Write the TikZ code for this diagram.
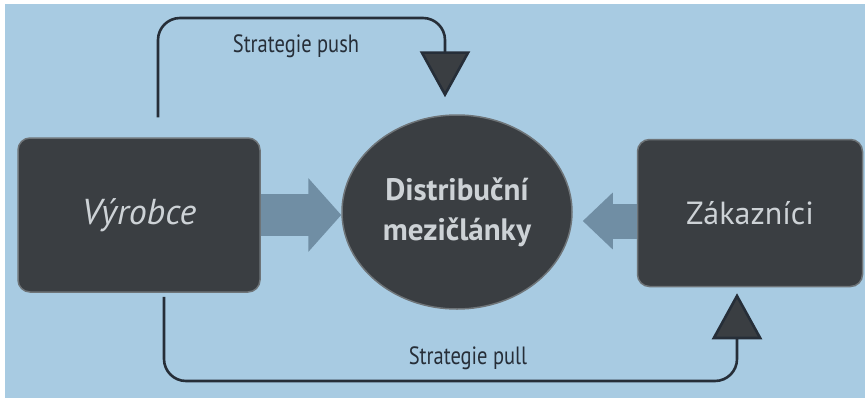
\documentclass[tikz,border=0pt]{standalone}
\usepackage{fontspec}
\setmainfont{PT Sans}
\newfontfamily\narrowfont[FakeStretch=0.82]{PT Sans}
\usetikzlibrary{arrows.meta,shapes.geometric}
\definecolor{pagebg}{RGB}{168,203,226}
\definecolor{boxgrey}{RGB}{58,62,66}
\definecolor{boxrim}{RGB}{110,116,120}
\definecolor{boxtext}{RGB}{205,210,214}
\definecolor{flowline}{RGB}{38,46,56}
\definecolor{arrowblue}{RGB}{112,142,164}

\tikzset{
  actor/.style={draw=boxrim, line width=1.5pt, fill=boxgrey, rounded corners=12pt,
    minimum width=242pt, minimum height=154pt, text=boxtext,
    font=\fontsize{32}{36}\selectfont},
  hub/.style={ellipse, draw=boxrim, line width=1.5pt, fill=boxgrey,
    minimum width=230pt, minimum height=194pt, text=boxtext, align=center,
    font=\bfseries\fontsize{31}{40}\selectfont},
  strategy/.style={line width=2.6pt, draw=flowline, rounded corners=22pt,
    -{Triangle[width=50pt,length=46pt,fill=boxgrey]}},
  blockarrow/.style={draw=arrowblue, line cap=butt},
  stratlabel/.style={text=flowline, font=\narrowfont\fontsize{25}{28}\selectfont}
}

\begin{document}
\begin{tikzpicture}[x=1pt,y=-1pt]

% Page
\fill[white] (0,0) rectangle (865,410);
\fill[pagebg] (5,4) rectangle (865,398);
\useasboundingbox (0,0) rectangle (865,410);

% Boxes
\node[actor] (vyrobce) at (139,215) {\itshape\fontsize{36}{40}\selectfont Výrobce};
\node[hub] (distrib) at (457,212) {Distribuční\\mezičlánky};
\node[actor, minimum width=225pt, minimum height=147pt] (zakaznici) at (750,213) {Zákazníci};

% Block arrows
\draw[blockarrow, line width=42pt, -{Triangle[width=72pt,length=33pt]}]
  (vyrobce.east) -- (vyrobce.east -| distrib.west);
\draw[blockarrow, line width=35pt, shorten >=10pt, -{Triangle[width=55pt,length=30pt]}]
  ([yshift=-8pt]zakaznici.west) -- ([yshift=-8pt]zakaznici.west -| distrib.east);

% Strategy lines
\coordinate (pushturn) at (300,18);
\coordinate (pullturn) at (450,381);
\draw[strategy] ([xshift=19pt,yshift=20pt]vyrobce.north) |- (pushturn)
  -| ([xshift=-12pt,yshift=17pt]distrib.north);
\draw[strategy] ([xshift=25pt,yshift=-4pt]vyrobce.south) |- (pullturn)
  -| ([xshift=-13pt,yshift=-6pt]zakaznici.south);

% Labels
\node[stratlabel] (pushlabel) at (296,46) {Strategie push};
\node[stratlabel] (pulllabel) at (468,358) {Strategie pull};

\end{tikzpicture}
\end{document}
